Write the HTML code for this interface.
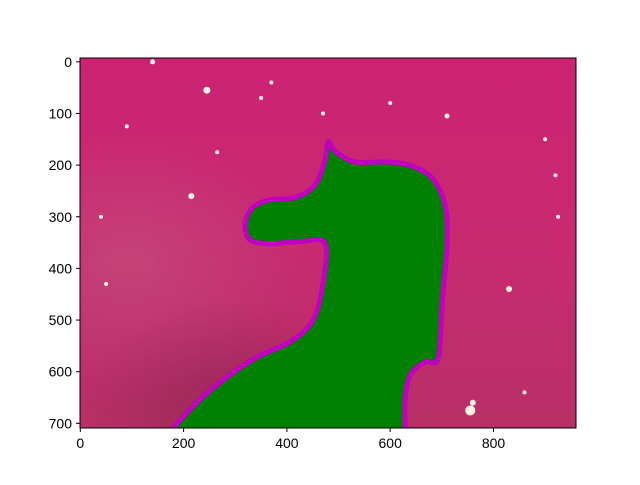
<!DOCTYPE html>
<html><head><meta charset="utf-8"><style>
body{margin:0;background:#fff;width:640px;height:480px;overflow:hidden;font-family:"Liberation Sans",sans-serif}
</style></head><body>
<svg width="640" height="480">
<defs>
<linearGradient id="bg" x1="0" y1="0" x2="0" y2="1">
<stop offset="0" stop-color="#cc2274"/><stop offset="0.5" stop-color="#c82a70"/><stop offset="1" stop-color="#b83066"/>
</linearGradient>
<radialGradient id="haze" cx="0.1" cy="0.55" r="0.35">
<stop offset="0" stop-color="#c06080" stop-opacity="0.45"/><stop offset="1" stop-color="#c06080" stop-opacity="0"/>
</radialGradient>
<radialGradient id="dark" cx="0.3" cy="0.95" r="0.3">
<stop offset="0" stop-color="#6a2040" stop-opacity="0.4"/><stop offset="1" stop-color="#6a2040" stop-opacity="0"/>
</radialGradient>
<clipPath id="clip"><rect x="80" y="58" width="496" height="370"/></clipPath>
</defs>
<g clip-path="url(#clip)">
<rect x="80" y="58" width="496" height="370" fill="url(#bg)"/>
<rect x="80" y="58" width="496" height="370" fill="url(#haze)"/>
<rect x="80" y="58" width="496" height="370" fill="url(#dark)"/>
<g id="stars" fill="#fff4e0"></g>
<path id="horse" fill="#008000" stroke="#bf00bf" stroke-width="5"/>
</g>
<rect x="80" y="58" width="496" height="370" fill="none" stroke="#000" stroke-width="1"/>
<g id="xt" font-size="14" text-anchor="middle"></g>
<g id="yt" font-size="14" text-anchor="end"></g>
</svg>
<script>
const pathX=[180,232,290,348,407,449,468,474,426,368,329,319,333,368,416,455,474,480,494,532,590,639,681,706,710,701,693,668,639,629,629];
const pathY=[709,654,606,569,542,503,441,352,348,352,345,316,283,267,263,238,190,155,174,194,194,201,225,277,354,461,573,581,606,654,709];
const xTicks=[0,200,400,600,800];
const yTicks=[0,100,200,300,400,500,600,700];
const starX=[140,245,830,755,215,90,900,710,760,350,600,50,920,470,265,860,925,370,40];
const starY=[0,55,440,675,260,125,150,105,660,70,80,430,220,100,175,640,300,40,300];
const starR=[2.5,3.5,3,5,3,2,2,2.5,3,2,2,2,2,2,2,2,2,2,2];
const S=0.5165, X0=80.3, Y0=61.8;
const sx=v=>X0+v*S, sy=v=>Y0+v*S;
const ns="http://www.w3.org/2000/svg";
let pts=pathX.map((x,i)=>[sx(x),sy(pathY[i])]);
let d="M"+pts[0][0]+","+pts[0][1];
for(let i=0;i<pts.length-1;i++){
 const p0=pts[Math.max(0,i-1)],p1=pts[i],p2=pts[i+1],p3=pts[Math.min(pts.length-1,i+2)];
 const c1=[p1[0]+(p2[0]-p0[0])/6,p1[1]+(p2[1]-p0[1])/6];
 const c2=[p2[0]-(p3[0]-p1[0])/6,p2[1]-(p3[1]-p1[1])/6];
 d+=` C${c1[0]},${c1[1]} ${c2[0]},${c2[1]} ${p2[0]},${p2[1]}`;
}
document.getElementById('horse').setAttribute('d',d+" L"+sx(629)+","+sy(760)+" L"+sx(180)+","+sy(760)+"Z");
const sg=document.getElementById('stars');
starX.forEach((x,i)=>{const c=document.createElementNS(ns,'circle');
c.setAttribute('cx',sx(x));c.setAttribute('cy',sy(starY[i]));c.setAttribute('r',starR[i]);


sg.appendChild(c);});
const xt=document.getElementById('xt');
xTicks.forEach(v=>{const x=sx(v);
const l=document.createElementNS(ns,'line');l.setAttribute('x1',x);l.setAttribute('x2',x);l.setAttribute('y1',428);l.setAttribute('y2',432);l.setAttribute('stroke','#000');


xt.appendChild(l);
const t=document.createElementNS(ns,'text');t.setAttribute('x',x);t.setAttribute('y',448);t.textContent=v;


xt.appendChild(t);});
const yt=document.getElementById('yt');
yTicks.forEach(v=>{const y=sy(v);
const l=document.createElementNS(ns,'line');l.setAttribute('x1',76);l.setAttribute('x2',80);l.setAttribute('y1',y);l.setAttribute('y2',y);l.setAttribute('stroke','#000');


yt.appendChild(l);
const t=document.createElementNS(ns,'text');t.setAttribute('x',72);t.setAttribute('y',y+5);t.textContent=v;


yt.appendChild(t);});
</script>
</body></html>
